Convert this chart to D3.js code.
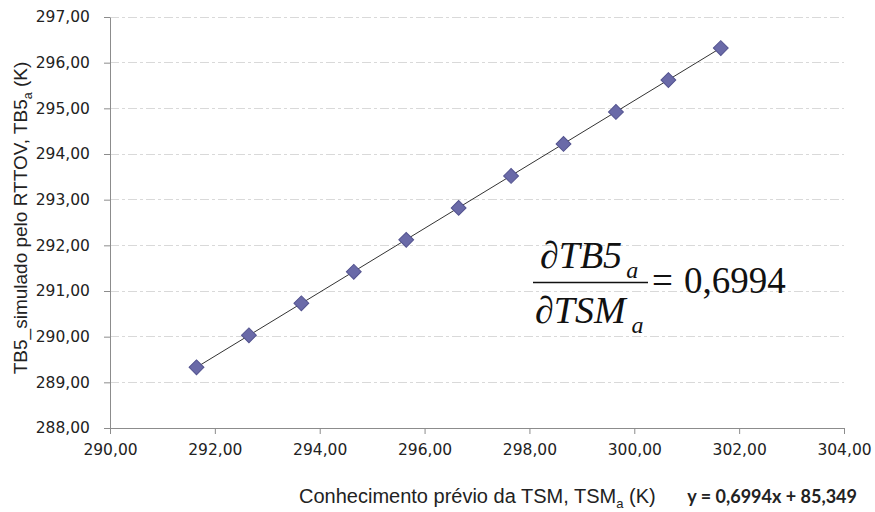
<!DOCTYPE html>
<html><head><meta charset="utf-8">
<script src="https://cdn.jsdelivr.net/npm/d3@7"></script>
<style>body{margin:0;background:#fff}svg{display:block}</style>
</head><body><svg id="c" width="875" height="512"></svg>
<script>
const tsm = [291.65, 292.65, 293.65, 294.65, 295.65, 296.65, 297.65, 298.65, 299.65, 300.65, 301.65];
const tb5 = [289.33, 290.03, 290.73, 291.42, 292.12, 292.82, 293.52, 294.22, 294.92, 295.62, 296.32];
const xTicks = [290, 292, 294, 296, 298, 300, 302, 304];
const yTicks = [288, 289, 290, 291, 292, 293, 294, 295, 296, 297];
const slope = 0.6994, intercept = 85.349;
const fmt = v => v.toFixed(2).replace('.', ',');

const svg = d3.select('#c');
const x = d3.scaleLinear().domain([290, 304]).range([110, 844]);
const y = d3.scaleLinear().domain([288, 297]).range([428, 17]);

// gridlines
svg.append('g').selectAll('line').data(yTicks.filter(d => d > 288)).join('line')
  .attr('x1', x(290)).attr('x2', x(304)).attr('y1', d => y(d)).attr('y2', d => y(d))
  .attr('stroke', '#d9d9d9').attr('stroke-width', 1).attr('stroke-dasharray', '9,3,3,3')
  .attr('shape-rendering', 'crispEdges');

const axisColor = '#8c8c8c';
const gx = svg.append('g').attr('transform', `translate(0,${y(288)})`)
  .call(d3.axisBottom(x).tickValues(xTicks).tickFormat(fmt).tickSize(6).tickSizeOuter(0).tickPadding(10));
const gy = svg.append('g').attr('transform', `translate(${x(290)},0)`)
  .call(d3.axisLeft(y).tickValues(yTicks).tickFormat(fmt).tickSize(6).tickSizeOuter(0).tickPadding(14));
[gx, gy].forEach(g => {
  g.select('.domain').attr('stroke', axisColor);
  g.selectAll('.tick line').attr('stroke', axisColor);
  g.selectAll('text').attr('fill', '#222').style('font-family', 'DejaVu Sans, Verdana, sans-serif').style('font-size', '15.5px');
});

// trendline
svg.append('line')
  .attr('x1', x(tsm[0])).attr('y1', y(slope * tsm[0] + intercept))
  .attr('x2', x(tsm[tsm.length - 1])).attr('y2', y(slope * tsm[tsm.length - 1] + intercept))
  .attr('stroke', '#333').attr('stroke-width', 1);

// markers
svg.append('g').selectAll('path').data(tsm.map((d, i) => [d, tb5[i]])).join('path')
  .attr('d', d3.symbol().type(d3.symbolSquare).size(110))
  .attr('transform', d => `translate(${x(d[0])},${y(d[1])}) rotate(45)`)
  .attr('fill', '#6a6aa8').attr('stroke', '#53538f').attr('stroke-width', 1);

// axis titles
const yl = svg.append('text').attr('transform', 'translate(27,218) rotate(-90)')
  .attr('text-anchor', 'middle').style('font-family', 'Liberation Sans, Arial, sans-serif')
  .style('font-size', '19px').attr('fill', '#222');
yl.append('tspan').text('TB5_simulado pelo RTTOV, TB5');
yl.append('tspan').text('a').attr('font-size', '12.5px').attr('dy', 5);
yl.append('tspan').text(' (K)').attr('dy', -5);

const xl = svg.append('text').attr('x', 299).attr('y', 503)
  .style('font-family', 'Liberation Sans, Arial, sans-serif').style('font-size', '20px').attr('fill', '#222');
xl.append('tspan').text('Conhecimento prévio da TSM, TSM');
xl.append('tspan').text('a').attr('font-size', '13px').attr('dy', 5);
xl.append('tspan').text(' (K)').attr('dy', -5);

svg.append('text').attr('x', 857).attr('y', 503).attr('text-anchor', 'end')
  .style('font-family', 'Lato, Liberation Sans, Arial, sans-serif').style('font-size', '18px').style('font-weight', 'bold')
  .attr('fill', '#222').text(`y = ${String(slope).replace('.', ',')}x + ${String(intercept).replace('.', ',')}`);

// formula
const ff = 'Liberation Serif, Times New Roman, serif';
const num = svg.append('text').attr('x', 540).attr('y', 268).style('font-family', ff).style('font-size', '38px')
  .style('font-style', 'italic').attr('fill', '#111');
num.append('tspan').text('∂TB5');
num.append('tspan').text('a').attr('font-size', '24px').attr('dy', 10).attr('dx', 4);
svg.append('line').attr('x1', 533).attr('x2', 648).attr('y1', 282.5).attr('y2', 282.5).attr('stroke', '#111').attr('stroke-width', 1.6);
const den = svg.append('text').attr('x', 535).attr('y', 323).style('font-family', ff).style('font-size', '38px')
  .style('font-style', 'italic').attr('fill', '#111');
den.append('tspan').text('∂TSM');
den.append('tspan').text('a').attr('font-size', '24px').attr('dy', 10).attr('dx', 6);
svg.append('text').attr('x', 652).attr('y', 293).style('font-family', ff).style('font-size', '37px')
  .attr('fill', '#111').text('=');
svg.append('text').attr('x', 684).attr('y', 293).style('font-family', ff).style('font-size', '37px')
  .attr('fill', '#111').text('0,6994');
</script></body></html>
